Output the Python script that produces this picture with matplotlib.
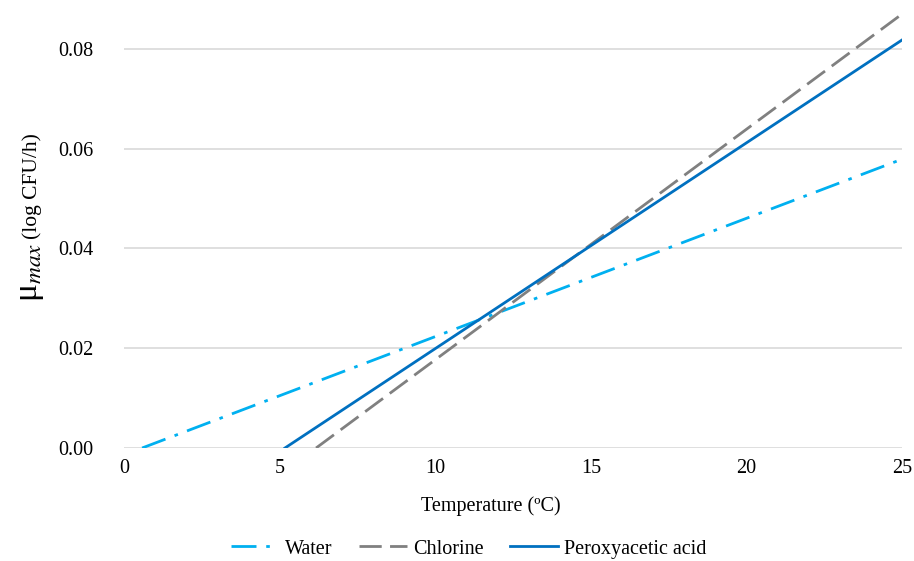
import numpy as np
import matplotlib as mpl
import matplotlib.pyplot as plt

mpl.rcParams.update({
    "font.family": "serif", "font.serif": ["Liberation Serif", "DejaVu Serif"],
    "mathtext.fontset": "stix", "font.size": 14.5,
})

# line endpoints (temperature, mu_max)
water_t = [0.58, 25.0]
water_mu = [0.0, 0.0579]
chlorine_t = [6.17, 25.0]
chlorine_mu = [0.0, 0.0870]
paa_t = [5.17, 25.0]
paa_mu = [0.0, 0.0818]

xticks = [0, 5, 10, 15, 20, 25]
yticks = [0.00, 0.02, 0.04, 0.06, 0.08]

fig = plt.figure(figsize=(9.14, 5.61), dpi=100)
ax = fig.add_axes([0.1357, 0.2014, 0.8513, 0.7986])

ax.plot(water_t, water_mu, color="#00B0F0", lw=2, dashes=(9, 3.5, 1.3, 3.5), label="Water")
ax.plot(chlorine_t, chlorine_mu, color="#808080", lw=2, dashes=(8, 3), label="Chlorine")
ax.plot(paa_t, paa_mu, color="#0070C0", lw=2, label="Peroxyacetic acid")

ax.set_xlim(0, 25)
ax.set_ylim(0, 0.0898)
ax.set_xticks(xticks)
ax.set_yticks(yticks)
ax.set_yticklabels([f"{v:.2f}" for v in yticks])
ax.tick_params(length=0, labelsize=14.5, colors="#000000")
ax.tick_params(axis="y", pad=22)
ax.tick_params(axis="x", pad=8)
ax.grid(axis="y", color="#D9D9D9", lw=1.2)
ax.set_axisbelow(True)
for s in ax.spines.values():
    s.set_visible(False)

ax.set_xlabel("Temperature (ºC)", fontsize=14.5, labelpad=13)
ax.xaxis.label.set_x(0.472)

# y label built from two pieces: large mu with italic subscript, then units
t1 = fig.text(0.041, 0.462, r"$\mathregular{\mu}_{\mathit{max}}$", fontsize=24,
              rotation=90, rotation_mode="anchor", ha="left", va="baseline")
fig.canvas.draw()
bb = t1.get_window_extent().transformed(fig.transFigure.inverted())
fig.text(0.041, bb.y1 + 0.006, "(log CFU/h)", fontsize=15.5,
         rotation=90, rotation_mode="anchor", ha="left", va="baseline")

fig.legend(loc="center", bbox_to_anchor=(0.5126, 0.0214), ncol=3, frameon=False,
           fontsize=14.5, handlelength=2.4, columnspacing=1.3, handletextpad=0.3)

fig.savefig("out.png", dpi=100)
